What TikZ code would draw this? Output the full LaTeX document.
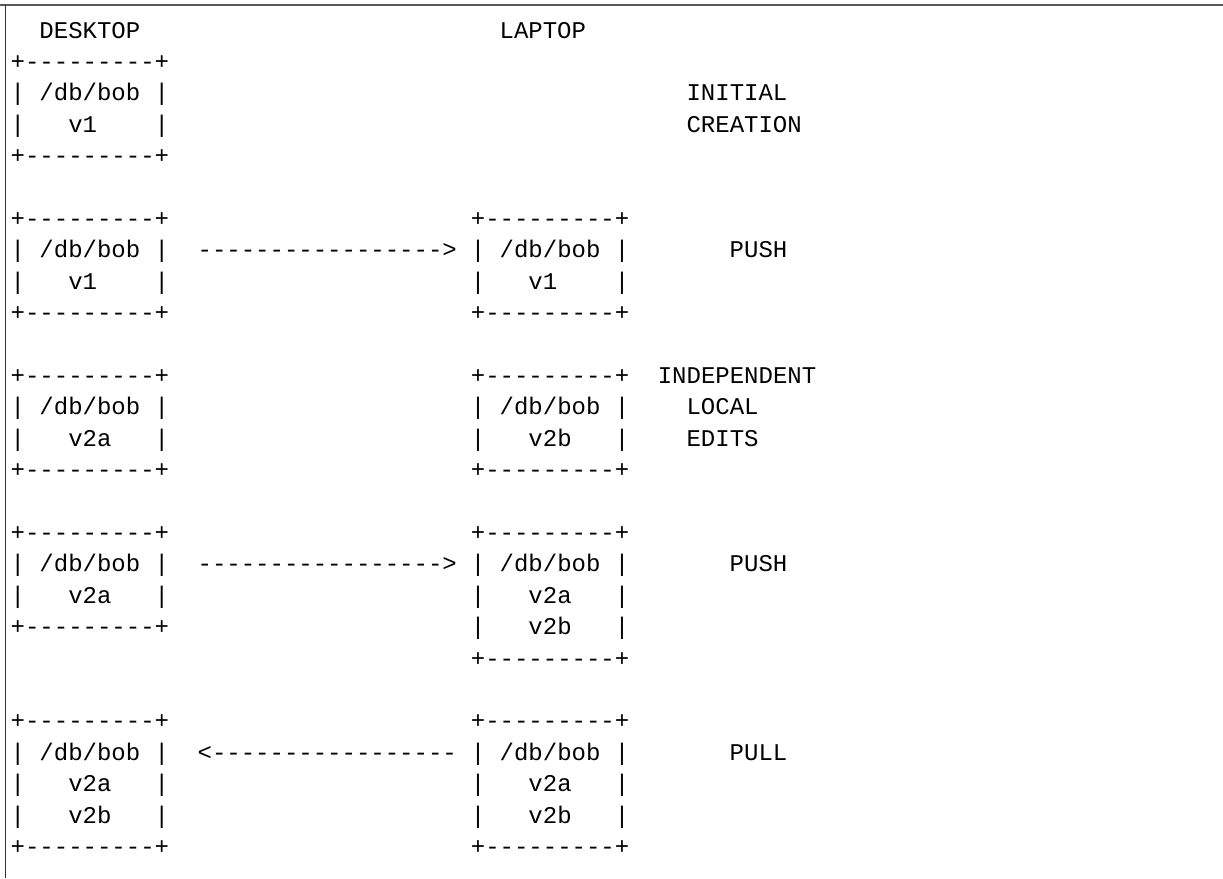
\documentclass[tikz,border=0pt]{standalone}
\usepackage{fontspec}
\setmonofont{Liberation Mono}
\tikzset{
  txt/.style={anchor=base west, inner sep=0pt,
    font=\ttfamily\fontsize{24}{31.4}\selectfont, text=black},
  frametop/.style={draw=black!65, line width=2pt},
  frameleft/.style={draw=black!80, line width=1.4pt}
}
% name, column, row, text
\newcommand\asc[4]{\node[txt] (#1) at ({(10.5+14.38*#2)*1pt},{-(38+31.4*#3)*1pt}) {#4};}
\newcommand\edge{+---------+}
\newcommand\dbline{|~/db/bob~|}
\begin{document}
\begin{tikzpicture}
\useasboundingbox (0,0) rectangle (1223pt,-878pt);
\fill[white] (0,0) rectangle (1223pt,-878pt);
\draw[frametop] (0,-5pt) -- (1223pt,-5pt);
\draw[frameleft] (5.5pt,-5pt) -- (5.5pt,-878pt);

% headers
\asc{hdesk}{2}{0}{DESKTOP}
\asc{hlap}{34}{0}{LAPTOP}

% step 1: initial creation
\asc{a1t}{0}{1}{\edge}
\asc{a1p}{0}{2}{\dbline}
\asc{a1v}{0}{3}{|~~~v1~~~~|}
\asc{a1b}{0}{4}{\edge}
\asc{l1a}{47}{2}{INITIAL}
\asc{l1b}{47}{3}{CREATION}

% step 2: push
\asc{a2t}{0}{6}{\edge}
\asc{a2p}{0}{7}{\dbline}
\asc{a2v}{0}{8}{|~~~v1~~~~|}
\asc{a2b}{0}{9}{\edge}
\asc{b2t}{32}{6}{\edge}
\asc{b2p}{32}{7}{\dbline}
\asc{b2v}{32}{8}{|~~~v1~~~~|}
\asc{b2b}{32}{9}{\edge}
\asc{arr2}{13}{7}{----------------->}
\asc{l2}{50}{7}{PUSH}

% step 3: independent local edits
\asc{a3t}{0}{11}{\edge}
\asc{a3p}{0}{12}{\dbline}
\asc{a3v}{0}{13}{|~~~v2a~~~|}
\asc{a3b}{0}{14}{\edge}
\asc{b3t}{32}{11}{\edge}
\asc{b3p}{32}{12}{\dbline}
\asc{b3v}{32}{13}{|~~~v2b~~~|}
\asc{b3b}{32}{14}{\edge}
\asc{l3a}{45}{11}{INDEPENDENT}
\asc{l3b}{47}{12}{LOCAL}
\asc{l3c}{47}{13}{EDITS}

% step 4: push
\asc{a4t}{0}{16}{\edge}
\asc{a4p}{0}{17}{\dbline}
\asc{a4v}{0}{18}{|~~~v2a~~~|}
\asc{a4b}{0}{19}{\edge}
\asc{b4t}{32}{16}{\edge}
\asc{b4p}{32}{17}{\dbline}
\asc{b4v}{32}{18}{|~~~v2a~~~|}
\asc{b4w}{32}{19}{|~~~v2b~~~|}
\asc{b4b}{32}{20}{\edge}
\asc{arr4}{13}{17}{----------------->}
\asc{l4}{50}{17}{PUSH}

% step 5: pull
\asc{a5t}{0}{22}{\edge}
\asc{a5p}{0}{23}{\dbline}
\asc{a5v}{0}{24}{|~~~v2a~~~|}
\asc{a5w}{0}{25}{|~~~v2b~~~|}
\asc{a5b}{0}{26}{\edge}
\asc{b5t}{32}{22}{\edge}
\asc{b5p}{32}{23}{\dbline}
\asc{b5v}{32}{24}{|~~~v2a~~~|}
\asc{b5w}{32}{25}{|~~~v2b~~~|}
\asc{b5b}{32}{26}{\edge}
\asc{arr5}{13}{23}{<-----------------}
\asc{l5}{50}{23}{PULL}
\end{tikzpicture}
\end{document}
